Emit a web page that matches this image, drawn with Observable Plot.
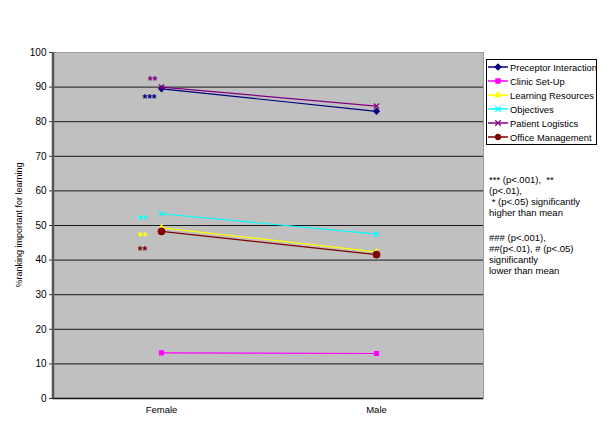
<!DOCTYPE html>
<html>
<head>
<meta charset="utf-8">
<script src="https://cdn.jsdelivr.net/npm/d3@7"></script>
<script src="https://cdn.jsdelivr.net/npm/@observablehq/plot@0.6"></script>
<style>
  html, body { margin: 0; padding: 0; background: #fff; }
  #wrap { position: relative; width: 611px; height: 421px; font-family: "Liberation Sans", Arial, sans-serif; }
  #legend { position: absolute; left: 486px; top: 59px; width: 111px; height: 86px; border: 1px solid #000; background: #fff; box-sizing: border-box; padding: 0 0 0 1px; }
  .lrow { display: flex; align-items: center; height: 14px; font-size: 9.4px; color: #000; white-space: nowrap; }
  .lrow:first-child { margin-top: 0px; }
  .lrow svg { margin-right: 2px; flex: none; }
  .note { position: absolute; left: 489px; font-size: 9.5px; line-height: 11px; color: #000; white-space: pre; }
</style>
</head>
<body>
<div id="wrap"></div>
<script>
const genders = ["Female", "Male"];
const seriesNames = ["Preceptor Interaction", "Clinic Set-Up", "Learning Resources", "Objectives", "Patient Logistics", "Office Management"];
const femaleValues = [89.5, 13.2, 49.3, 53.4, 90.0, 48.3];
const maleValues = [83.0, 13.0, 42.4, 47.5, 84.5, 41.6];
const seriesColors = ["#000080", "#FF00FF", "#FFFF00", "#00FFFF", "#800080", "#800000"];
const seriesSymbols = ["diamond2", "square2", "triangle2", "times", "times", "circle"];
const yTicks = [0, 10, 20, 30, 40, 50, 60, 70, 80, 90, 100];
// significance markers next to Female points
const starSeries = ["Patient Logistics", "Preceptor Interaction", "Objectives", "Learning Resources", "Office Management"];
const starLabels = ["**", "***", "**", "**", "**"];
const noteHigher = "*** (p<.001),  **\n(p<.01),\n * (p<.05) significantly\nhigher than mean";
const noteLower = "### (p<.001),\n##(p<.01), # (p<.05)\nsignificantly\nlower than mean";

const data = [];
seriesNames.forEach((s, i) => {
  data.push({series: s, gender: genders[0], value: femaleValues[i]});
  data.push({series: s, gender: genders[1], value: maleValues[i]});
});
const stars = starSeries.map((s, i) => ({series: s, gender: "Female", value: femaleValues[seriesNames.indexOf(s)], label: starLabels[i]}));
// label offsets (pixels) from the Female point
const starOffsets = [[-9, -6], [-12, 10], [-19, 6], [-19, 9], [-19, 20]];

const color = {domain: seriesNames, range: seriesColors};
const symbol = {domain: seriesNames, range: seriesSymbols};

const plot = Plot.plot({
  width: 611,
  height: 421,
  marginLeft: 53,
  marginRight: 128,
  marginTop: 52,
  marginBottom: 23,
  style: {fontFamily: "'Liberation Sans', Arial, sans-serif", fontSize: "9px", background: "#fff", color: "#000"},
  x: {type: "point", domain: genders, padding: 0.5, label: null},
  y: {domain: [0, 100], ticks: yTicks, label: null},
  color,
  symbol,
  marks: [
    Plot.frame({fill: "#C0C0C0", stroke: "#9a9a9a"}),
    Plot.gridY(yTicks.filter(d => d > 0 && d < 100), {stroke: "#1a1a1a", strokeOpacity: 1, strokeWidth: 1}),
    Plot.ruleY([0], {stroke: "#111", strokeWidth: 1.5}),
    Plot.axisY({ticks: yTicks, tickSize: 4, tickPadding: 3, fontSize: 10, stroke: "#333", label: null}),
    Plot.axisX({tickSize: 0, tickPadding: 8, fontSize: 9.5, label: null}),
    Plot.line(data, {x: "gender", y: "value", z: "series", stroke: "series", strokeWidth: 1.2}),
    Plot.dot(data.filter(d => d.series !== "Office Management"), {x: "gender", y: "value", stroke: "series", fill: "series", symbol: "series", r: 2.5, strokeWidth: 1.2}),
    Plot.dot(data.filter(d => d.series === "Office Management"), {x: "gender", y: "value", stroke: "series", fill: "series", symbol: "series", r: 3.5, strokeWidth: 1}),
    ...stars.map((s, i) => Plot.text([s], {x: "gender", y: "value", text: "label", fill: "series", dx: starOffsets[i][0], dy: starOffsets[i][1], fontSize: 12, fontWeight: "bold"}))
  ]
});

const svg = d3.select(plot);
const wrap = document.getElementById("wrap");
wrap.appendChild(plot);
// left axis line
svg.append("line").attr("x1", 53).attr("x2", 53).attr("y1", 52).attr("y2", 398).attr("stroke", "#555").attr("stroke-width", 2.5);

// y-axis title
svg.append("text")
  .attr("transform", `translate(22,${(52 + 398) / 2}) rotate(-90)`)
  .attr("text-anchor", "middle")
  .attr("font-size", 9)
  .attr("fill", "#000")
  .text("%ranking important for learning");

// legend
const legend = document.createElement("div");
legend.id = "legend";
const symMap = {diamond2: d3.symbolDiamond2, square2: d3.symbolSquare2, triangle2: d3.symbolTriangle2, times: d3.symbolTimes, circle: d3.symbolCircle};
seriesNames.forEach((s, i) => {
  const row = document.createElement("div");
  row.className = "lrow";
  const path = d3.symbol(symMap[seriesSymbols[i]], 22)();
  row.innerHTML = `<svg width="20" height="10"><line x1="0" x2="20" y1="5" y2="5" stroke="${seriesColors[i]}" stroke-width="1.5"/><path d="${path}" transform="translate(10,5)" fill="${seriesColors[i]}" stroke="${seriesColors[i]}" stroke-width="1.2"/></svg><span>${s}</span>`;
  legend.appendChild(row);
});
wrap.appendChild(legend);

[[noteHigher, 174], [noteLower, 232]].forEach(([t, top]) => {
  const note = document.createElement("div");
  note.className = "note";
  note.style.top = top + "px";
  note.textContent = t;
  wrap.appendChild(note);
});
</script>
</body>
</html>
